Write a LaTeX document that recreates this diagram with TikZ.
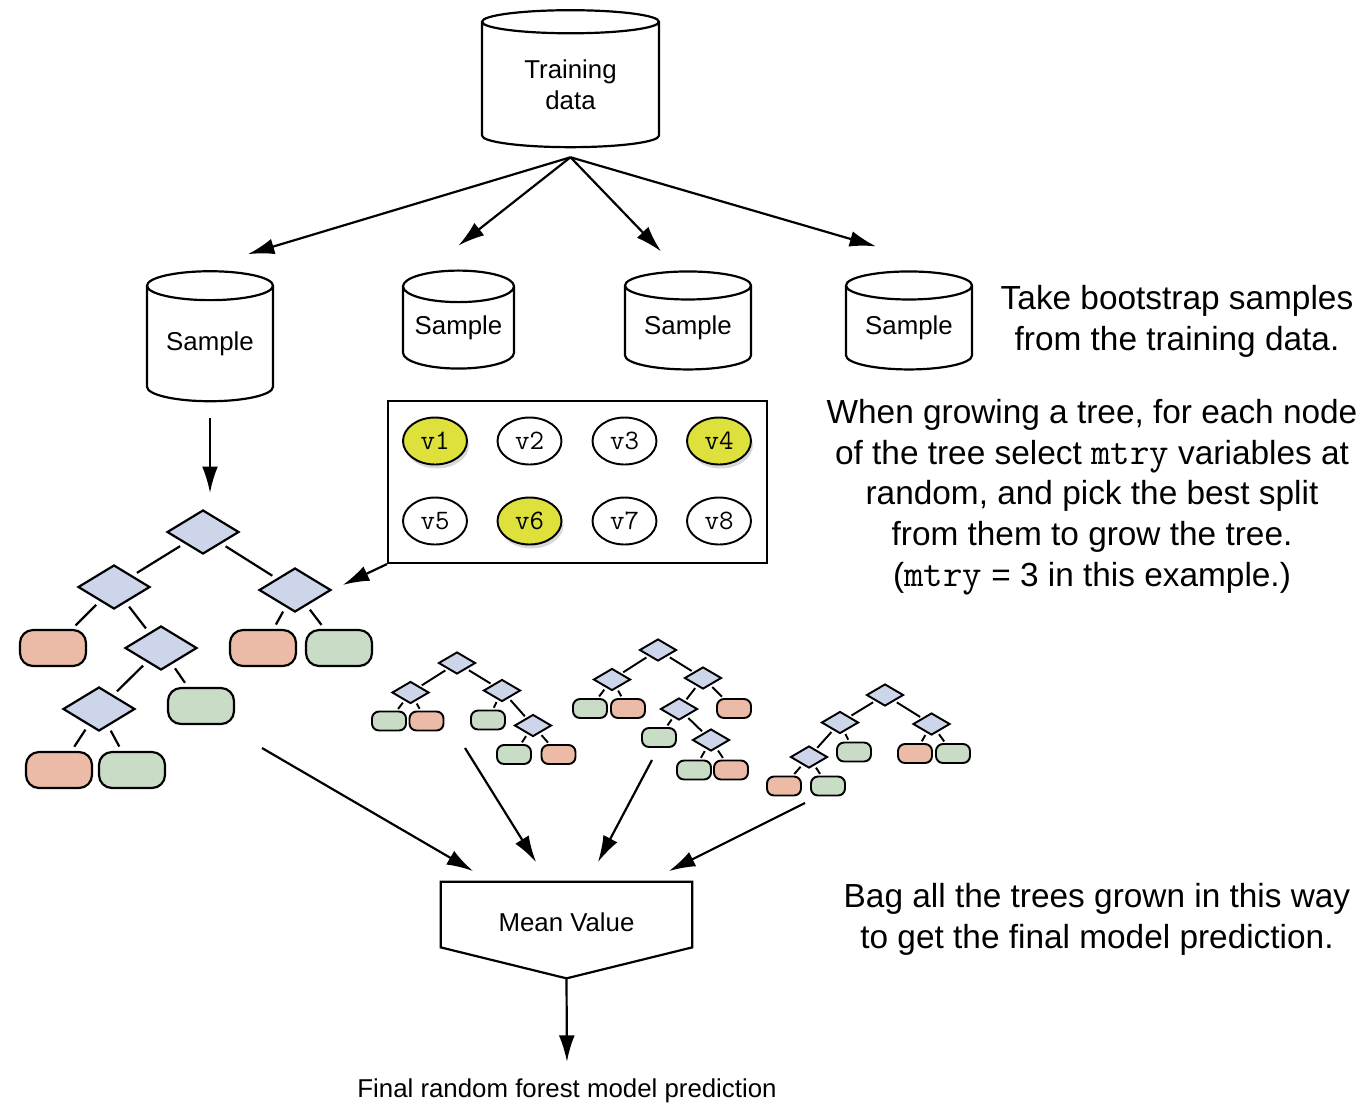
\documentclass[tikz,border=0pt]{standalone}
\usepackage{fontspec}
\setmainfont{Liberation Sans}
\usetikzlibrary{shapes.geometric,arrows.meta,shadows}
\definecolor{diafill}{RGB}{205,213,234}
\definecolor{leafred}{RGB}{235,187,168}
\definecolor{leafgreen}{RGB}{200,220,198}
\definecolor{varyellow}{RGB}{222,224,60}
\newcommand{\varname}[1]{{\ttfamily\fontsize{21.5}{23.2}\selectfont #1}}
\tikzset{
  db/.style={cylinder, shape border rotate=90, draw, line width=1.25pt, fill=white,
    inner sep=0pt, align=center, font=\fontsize{14.7}{17.6}\selectfont},
  bigdia/.style={diamond, draw, line width=1.25pt, fill=diafill, inner sep=0pt,
    minimum width=1.44cm, minimum height=0.88cm},
  bigleaf/.style={rectangle, rounded corners=0.26cm, draw, line width=1.25pt, inner sep=0pt,
    minimum width=1.32cm, minimum height=0.72cm},
  smalldia/.style={diamond, draw, line width=1.1pt, fill=diafill, inner sep=0pt,
    minimum width=0.74cm, minimum height=0.44cm},
  smallleaf/.style={rectangle, rounded corners=0.14cm, draw, line width=1.1pt, inner sep=0pt,
    minimum width=0.68cm, minimum height=0.38cm},
  bigedge/.style={line width=1.25pt, shorten <=0.1cm, shorten >=0.1cm},
  smalledge/.style={line width=1.1pt, shorten <=0.05cm, shorten >=0.04cm},
  var/.style={ellipse, draw, line width=1.1pt, fill=white, inner sep=0pt,
    minimum width=1.28cm, minimum height=0.94cm, font=\ttfamily\fontsize{16}{16}\selectfont},
  picked/.style={fill=varyellow, drop shadow={shadow xshift=0.4mm, shadow yshift=-0.8mm, opacity=0.3}},
  arr/.style={line width=1.25pt, -{Latex[length=15pt,width=9pt]}},
  lbl/.style={font=\fontsize{14.7}{17.6}\selectfont},
  note/.style={align=center, font=\fontsize{19}{23.2}\selectfont}
}
\begin{document}
\begin{tikzpicture}[x=0.02cm, y=-0.02cm]
  \useasboundingbox (0,0) rectangle (1366,1110);

  % data and bootstrap samples
  \node[db, minimum width=3.54cm, minimum height=2.74cm, aspect=0.25] (train) at (570.5,85) {Training\\data};
  \node[db, minimum width=2.52cm, minimum height=2.6cm, aspect=0.33] (s1) at (210,344) {Sample};
  \node[db, minimum width=2.22cm, minimum height=1.96cm, aspect=0.36] (s2) at (458.5,328) {Sample};
  \node[db, minimum width=2.52cm, minimum height=1.96cm, aspect=0.32] (s3) at (688,328) {Sample};
  \node[db, minimum width=2.52cm, minimum height=1.96cm, aspect=0.32] (s4) at (909,328) {Sample};

  \coordinate (fork) at ([yshift=-0.18cm]train.south);
  \draw[arr] (fork) -- ([xshift=0.76cm,yshift=0.32cm]s1.north);
  \draw[arr] (fork) -- ([yshift=0.48cm]s2.north);
  \draw[arr] (fork) -- ([xshift=-0.54cm,yshift=0.38cm]s3.north);
  \draw[arr] (fork) -- ([xshift=-0.66cm,yshift=0.48cm]s4.north);

  % candidate variables
  \node[draw, line width=1.25pt, minimum width=7.58cm, minimum height=3.24cm] (vars) at (577.5,482) {};
  \foreach \i/\x/\y in {2/529.5/441, 3/624.5/441, 5/435/521, 7/624.5/521, 8/719/521}
    \node[var] (v\i) at (\x,\y) {v\i};
  \foreach \i/\x/\y in {1/435/441, 4/719/441, 6/529.5/521}
    \node[var, picked] (v\i) at (\x,\y) {v\i};

  % the grown tree
  \node[bigdia] (r) at (203,532) {};
  \node[bigdia] (rl) at (114,587) {};
  \node[bigdia] (rr) at (295,590) {};
  \node[bigleaf, fill=leafred] (rll) at (53,648) {};
  \node[bigdia] (rlr) at (161,648) {};
  \node[bigleaf, fill=leafred] (rrl) at (263,648) {};
  \node[bigleaf, fill=leafgreen] (rrr) at (339,648) {};
  \node[bigdia] (rlrl) at (99,709) {};
  \node[bigleaf, fill=leafgreen] (rlrr) at (201,706) {};
  \node[bigleaf, fill=leafred] (rlrll) at (59,770) {};
  \node[bigleaf, fill=leafgreen] (rlrlr) at (132,770) {};
  \foreach \a/\b in {r/rl, r/rr, rl/rll, rl/rlr, rr/rrl, rr/rrr, rlr/rlrl, rlr/rlrr, rlrl/rlrll, rlrl/rlrlr}
    \draw[bigedge] (\a) -- (\b);

  \draw[arr, shorten <=0.32cm, shorten >=0.32cm] (s1.south) -- (s1.south |- r.north);
  \draw[arr, shorten >=0.24cm] (vars.south west) -- (rr.east);

  % more trees
  \node[smalldia] (a0) at (457,663) {};
  \node[smalldia] (a1) at (410.5,692.5) {};
  \node[smalldia] (a2) at (502,690.5) {};
  \node[smallleaf, fill=leafgreen] (a3) at (389,721) {};
  \node[smallleaf, fill=leafred] (a4) at (426.5,721) {};
  \node[smallleaf, fill=leafgreen] (a5) at (488,720) {};
  \node[smalldia] (a6) at (533,725.5) {};
  \node[smallleaf, fill=leafgreen] (a7) at (514,754.5) {};
  \node[smallleaf, fill=leafred] (a8) at (558.5,754.5) {};
  \foreach \a/\b in {a0/a1, a0/a2, a1/a3, a1/a4, a2/a5, a2/a6, a6/a7, a6/a8}
    \draw[smalledge] (\a) -- (\b);

  \node[smalldia] (b0) at (658,650) {};
  \node[smalldia] (b1) at (612,679.5) {};
  \node[smalldia] (b2) at (703,678) {};
  \node[smallleaf, fill=leafgreen] (b3) at (590,708.5) {};
  \node[smallleaf, fill=leafred] (b4) at (628,708.5) {};
  \node[smalldia] (b5) at (679,709) {};
  \node[smallleaf, fill=leafred] (b6) at (734,708.5) {};
  \node[smallleaf, fill=leafgreen] (b7) at (659,737.5) {};
  \node[smalldia] (b8) at (711,740) {};
  \node[smallleaf, fill=leafgreen] (b9) at (694,770) {};
  \node[smallleaf, fill=leafred] (b10) at (731,770) {};
  \foreach \a/\b in {b0/b1, b0/b2, b1/b3, b1/b4, b2/b5, b2/b6, b5/b7, b5/b8, b8/b9, b8/b10}
    \draw[smalledge] (\a) -- (\b);

  \node[smalldia] (c0) at (885,695) {};
  \node[smalldia] (c1) at (840,722.5) {};
  \node[smalldia] (c2) at (931.5,724) {};
  \node[smalldia] (c3) at (809,757) {};
  \node[smallleaf, fill=leafgreen] (c4) at (854,752) {};
  \node[smallleaf, fill=leafred] (c5) at (915,753.5) {};
  \node[smallleaf, fill=leafgreen] (c6) at (953,753.5) {};
  \node[smallleaf, fill=leafred] (c7) at (784,786) {};
  \node[smallleaf, fill=leafgreen] (c8) at (828,786) {};
  \foreach \a/\b in {c0/c1, c0/c2, c1/c3, c1/c4, c2/c5, c2/c6, c3/c7, c3/c8}
    \draw[smalledge] (\a) -- (\b);

  % bagging
  \node[lbl, minimum width=5.02cm, minimum height=1.6cm] (mean) at (566.5,922) {Mean Value};
  \draw[line width=1.25pt] (mean.north west) -- (mean.north east) -- ([yshift=0.3cm]mean.south east)
    -- ([yshift=-0.32cm]mean.south) coordinate (tip) -- ([yshift=0.3cm]mean.south west) -- cycle;

  \coordinate (t1) at (262,748);
  \coordinate (t2) at (465,748);
  \coordinate (t3) at (652,760);
  \coordinate (t4) at (805,803);
  \coordinate (h1) at (473,871);
  \coordinate (h2) at (536,862);
  \coordinate (h3) at (598,862);
  \coordinate (h4) at (669,871);
  \foreach \i in {1,...,4}
    \draw[arr] (t\i) -- (h\i);

  \node[lbl] (final) at (567,1091) {Final random forest model prediction};
  \draw[arr, shorten >=0.22cm] (tip) -- (final.north);

  % notes
  \node[note] (n1) at (1177,321) {Take bootstrap samples\\from the training data.};
  \node[note] (n2) at (1092,497) {When growing a tree, for each node\\of the tree select \varname{mtry} variables at\\random, and pick the best split\\from them to grow the tree.\\(\varname{mtry} = 3 in this example.)};
  \node[note] (n3) at (1097,919.5) {Bag all the trees grown in this way\\to get the final model prediction.};
\end{tikzpicture}
\end{document}
